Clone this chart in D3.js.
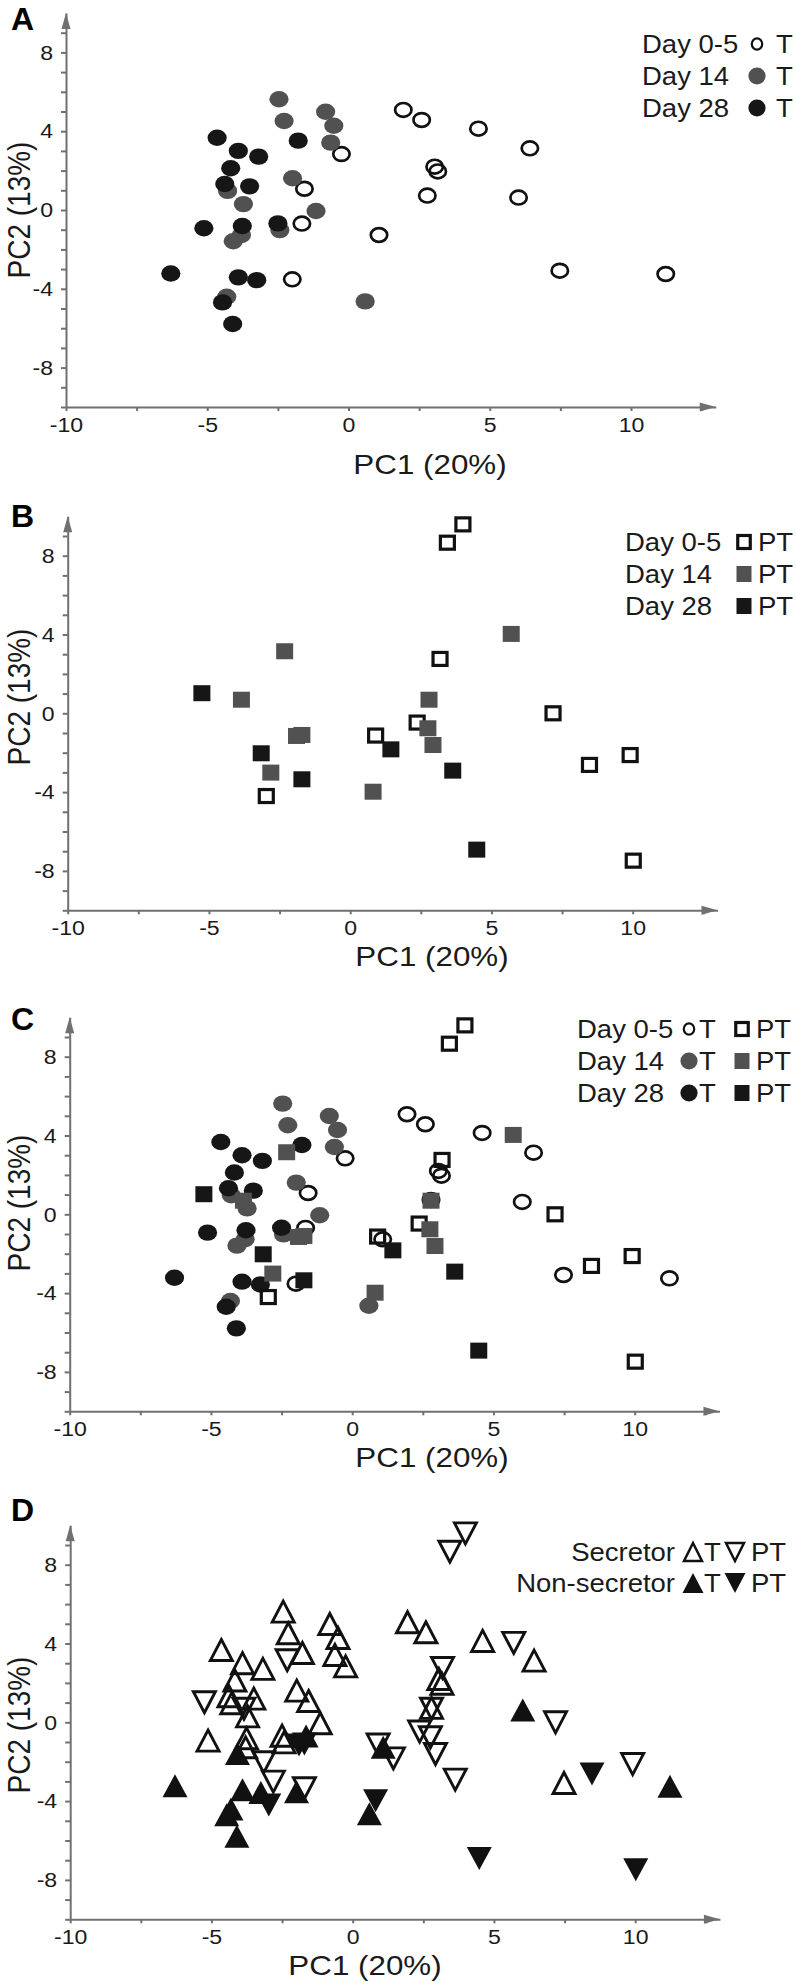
<!DOCTYPE html>
<html>
<head>
<meta charset="utf-8">
<title>PCA score plots</title>
<script src="https://d3js.org/d3.v7.min.js"></script>
<style>
  body { margin: 0; background: #fff; }
  svg { display: block; }
  text { font-family: "Liberation Sans", Arial, sans-serif; fill: #1a1a1a; }
  .axis path, .axis line { stroke: #707070; stroke-width: 2px; }
  .axis text { font-size: 21px; fill: #1a1a1a; transform-box: fill-box; }
  .xaxis text { transform-origin: center; transform: scaleX(1.1); }
  .yaxis text { transform-origin: right center; transform: scaleX(1.1); }
  .plabel { font-weight: bold; font-size: 32px; fill: #000; }
</style>
</head>
<body>
<svg width="796" height="1986"></svg>
<script>
// scores: [PC1, PC2, secretor 1 / non-secretor 0]
const tDay05 = [
  [1.94, 5.08, 1], [2.59, 4.57, 1], [4.60, 4.13, 1], [6.42, 3.13, 1], [-0.25, 2.84, 1],
  [3.05, 2.20, 1], [3.16, 1.96, 1], [-1.56, 1.08, 1], [2.79, 0.73, 1], [6.02, 0.63, 0],
  [-1.65, -0.69, 0], [1.08, -1.27, 0], [7.48, -3.08, 1], [11.23, -3.25, 0], [-1.99, -3.52, 0]
];
const tDay14 = [
  [-2.46, 5.62, 1], [-2.28, 4.52, 1], [-0.81, 4.99, 1], [-0.52, 4.28, 1], [-0.63, 3.42, 1],
  [-1.98, 1.61, 1], [-4.28, 0.97, 1], [-3.72, 0.30, 1], [-1.15, -0.05, 1], [-2.43, -1.02, 1],
  [-3.79, -1.27, 1], [-4.08, -1.59, 0], [-4.31, -4.40, 0], [0.59, -4.64, 0]
];
const tDay28 = [
  [-4.65, 3.67, 1], [-3.90, 3.00, 1], [-3.18, 2.71, 1], [-1.78, 3.52, 1], [-4.17, 2.12, 1],
  [-4.38, 1.32, 1], [-3.50, 1.20, 1], [-5.12, -0.93, 1], [-3.76, -0.81, 1], [-2.50, -0.68, 1],
  [-6.29, -3.22, 0], [-3.90, -3.42, 0], [-3.25, -3.56, 0], [-4.46, -4.69, 0], [-4.10, -5.79, 0]
];
const ptDay05 = [
  [3.99, 9.59, 1], [3.44, 8.66, 1], [3.18, 2.76, 1], [7.18, 0.00, 1], [2.37, -0.47, 1],
  [0.90, -1.13, 1], [9.91, -2.12, 1], [8.47, -2.62, 0], [-2.97, -4.20, 0], [10.02, -7.48, 0]
];
const ptDay14 = [
  [5.70, 4.03, 1], [-2.32, 3.15, 1], [-3.85, 0.69, 1], [2.79, 0.69, 1], [-1.90, -1.15, 0],
  [-1.71, -1.10, 0], [2.75, -0.76, 1], [2.93, -1.61, 1], [-2.81, -3.01, 1], [0.81, -3.98, 0]
];
const ptDay28 = [
  [-5.25, 1.02, 1], [-3.15, -2.03, 1], [-1.71, -3.35, 1], [1.44, -1.83, 1], [3.63, -2.91, 1],
  [4.48, -6.92, 0]
];

const days = ["Day 0-5", "Day 14", "Day 28"];
const groups = ["Secretor", "Non-secretor"];
const xTicks = [-10, -5, 0, 5, 10];
const yTicks = [8, 4, 0, -4, -8];
const xTitle = "PC1 (20%)";
const yTitle = "PC2 (13%)";

const tSets = [tDay05, tDay14, tDay28];
const ptSets = [ptDay05, ptDay14, ptDay28];
const dayFill = [null, "#515151", "#161616"];

const svg = d3.select("svg");

// panel frames (pixel layout of the figure)
const panels = [
  { id: "A", x0: 66,   yb: 407,    tx: 430, tb: 474,  yc: 210,  ly: 29.5 },
  { id: "B", x0: 67.7, yb: 910.3,  tx: 432, tb: 966,  yc: 697,  ly: 527 },
  { id: "C", x0: 69.7, yb: 1411.3, tx: 432, tb: 1467, yc: 1203, ly: 1030 },
  { id: "D", x0: 70.2, yb: 1919.3, tx: 365, tb: 1975, yc: 1725, ly: 1521 }
];

function stretchText(g, str, x, y, size, anchor, sx) {
  return g.append("text")
    .attr("transform", `translate(${x},${y}) scale(${sx || 1.1},1)`)
    .attr("text-anchor", anchor || "start")
    .style("font-size", size + "px")
    .text(str);
}

function ellipse(g, cx, cy, k, big) {
  const f = dayFill[k];
  if (f) {
    g.append("ellipse").attr("cx", cx).attr("cy", cy)
      .attr("rx", big ? 9.6 : 8.6).attr("ry", big ? 8.2 : 8.4).attr("fill", f);
  } else {
    g.append("ellipse").attr("cx", cx).attr("cy", cy)
      .attr("rx", big ? 8.2 : 5.2).attr("ry", big ? 6.9 : 5.6)
      .attr("fill", "none").attr("stroke", "#111").attr("stroke-width", big ? 2.7 : 2.2);
  }
}

function square(g, cx, cy, k, big) {
  const f = dayFill[k];
  if (f) {
    const w = big ? 17 : 15, h = 16;
    g.append("rect").attr("x", cx - w / 2).attr("y", cy - h / 2)
      .attr("width", w).attr("height", h).attr("fill", f);
  } else {
    const w = big ? 14 : 12.5, h = 13;
    g.append("rect").attr("x", cx - w / 2).attr("y", cy - h / 2)
      .attr("width", w).attr("height", h)
      .attr("fill", "none").attr("stroke", "#111").attr("stroke-width", 3.2);
  }
}

function triPath(w, h, up) {
  const a = up ? -h / 2 : h / 2;
  return `M0,${a}L${w / 2},${-a}L${-w / 2},${-a}Z`;
}

function triangle(g, cx, cy, up, sec, big) {
  const p = g.append("path").attr("transform", `translate(${cx},${cy})`);
  if (sec) {
    const w = big ? 22 : 18, h = big ? 21 : 18;
    p.attr("d", triPath(w, h, up)).attr("fill", "none")
      .attr("stroke", "#111").attr("stroke-width", big ? 2.9 : 2.5);
  } else {
    const w = big ? 25 : 21, h = big ? 23 : 20;
    p.attr("d", triPath(w, h, up)).attr("fill", "#111");
  }
}

function drawAxes(g, x, y, p) {
  const xa = d3.axisBottom(x)
    .tickValues(d3.range(-10, 13, 2.5))
    .tickSize(4).tickSizeOuter(0).tickPadding(6)
    .tickFormat(d => xTicks.includes(d) ? d : "");
  g.append("g").attr("class", "axis xaxis")
    .attr("transform", `translate(0,${p.yb})`).call(xa);

  const ya = d3.axisLeft(y)
    .tickValues(d3.range(-10, 10, 1))
    .tickSize(5).tickSizeOuter(0).tickPadding(8)
    .tickFormat(d => yTicks.includes(d) ? d : "");
  g.append("g").attr("class", "axis yaxis")
    .attr("transform", `translate(${p.x0},0)`).call(ya);

  // arrow heads
  const xt = x(13), yt = y(10);
  g.append("path")
    .attr("d", `M${xt},${p.yb}L${xt - 16},${p.yb - 4.5}L${xt - 16},${p.yb + 4.5}Z`)
    .attr("fill", "#707070");
  g.append("path")
    .attr("d", `M${p.x0},${yt}L${p.x0 - 4.5},${yt + 16}L${p.x0 + 4.5},${yt + 16}Z`)
    .attr("fill", "#707070");

  stretchText(g, xTitle, p.tx, p.tb, 28, "middle", 1.12);
  g.append("text")
    .attr("transform", `translate(30,${p.yc}) rotate(-90) scale(1,1.15)`)
    .attr("text-anchor", "middle")
    .style("font-size", "28px")
    .text(yTitle);

  g.append("text").attr("class", "plabel")
    .attr("x", 11).attr("y", p.ly)
    .text(p.id);
}

panels.forEach(p => {
  const g = svg.append("g");
  const x = d3.scaleLinear().domain([-10, 13]).range([p.x0, p.x0 + 23 * 28.25]);
  const y = d3.scaleLinear().domain([-10, 10]).range([p.yb, p.yb - 20 * 19.7]);

  drawAxes(g, x, y, p);
  const m = g.append("g");

  if (p.id === "A" || p.id === "C") {
    tSets.forEach((set, k) => set.forEach(d => ellipse(m, x(d[0]), y(d[1]), k, true)));
  }
  if (p.id === "B" || p.id === "C") {
    ptSets.forEach((set, k) => set.forEach(d => square(m, x(d[0]), y(d[1]), k, true)));
  }
  if (p.id === "D") {
    tSets.forEach(set => set.forEach(d => triangle(m, x(d[0]), y(d[1]), true, d[2], true)));
    ptSets.forEach(set => set.forEach(d => triangle(m, x(d[0]), y(d[1]), false, d[2], true)));
  }

  // legends
  const lg = g.append("g");
  if (p.id === "A") {
    [44, 76, 108].forEach((cy, i) => {
      stretchText(lg, days[i], 642, cy + 9, 25);
      ellipse(lg, 757, cy, i, false);
      stretchText(lg, "T", 776, cy + 9, 25);
    });
  } else if (p.id === "B") {
    [542, 574, 606].forEach((cy, i) => {
      stretchText(lg, days[i], 625, cy + 9, 25);
      square(lg, 744, cy, i, false);
      stretchText(lg, "PT", 758, cy + 9, 25);
    });
  } else if (p.id === "C") {
    [1029, 1061, 1093].forEach((cy, i) => {
      stretchText(lg, days[i], 577, cy + 9, 25);
      ellipse(lg, 689, cy, i, false);
      stretchText(lg, "T", 699, cy + 9, 25);
      square(lg, 742, cy, i, false);
      stretchText(lg, "PT", 756, cy + 9, 25);
    });
  } else {
    [1552, 1583].forEach((cy, i) => {
      stretchText(lg, groups[i], 675, cy + 9, 25, "end");
      triangle(lg, 693, cy, true, i === 0, false);
      stretchText(lg, "T", 704, cy + 9, 25);
      triangle(lg, 735, cy, false, i === 0, false);
      stretchText(lg, "PT", 751, cy + 9, 25);
    });
  }
});
</script>
</body>
</html>
